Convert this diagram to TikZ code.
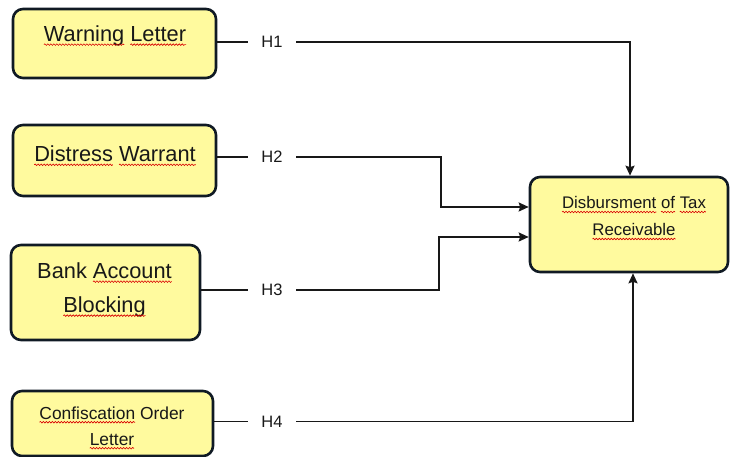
\documentclass[tikz,border=0pt]{standalone}
\usepackage{fontspec}
\setmainfont{Liberation Sans}
\usetikzlibrary{arrows.meta,decorations.pathmorphing}
\definecolor{boxfill}{RGB}{255,250,158}
\definecolor{boxline}{RGB}{16,26,36}
\definecolor{ink}{RGB}{24,24,24}
\newcommand\sq[1]{\tikz[baseline=(w.base)]{\node[inner sep=0pt,outer sep=0pt,draw=none,fill=none,align=left](w){#1};\draw[overlay,red!85!black,line width=0.6pt,decorate,decoration={snake,amplitude=0.8pt,segment length=3pt}]([yshift=-3pt]w.base west)--([yshift=-3pt]w.base east);}}
\tikzset{
  boxshape/.style={draw=boxline,fill=boxfill,line width=2.6pt,rounded corners=10pt,inner sep=0pt},
  boxtext/.style={text=ink,align=center,inner sep=0pt},
  hlabel/.style={text=ink,font=\fontsize{16.5}{18}\selectfont,inner xsep=13.5pt,inner ysep=2pt},
  conn/.style={draw=ink,line width=1.9pt},
  arr/.style={conn,-{Stealth[length=10pt,width=9pt,inset=1.5pt]}}
}
\begin{document}
\begin{tikzpicture}[x=1pt,y=1pt]
\useasboundingbox (0,0) rectangle (730,457);
% boxes
\node[boxshape,minimum width=203pt,minimum height=69pt] (b1) at (114.5,413.5) {};
\node[boxshape,minimum width=203pt,minimum height=71pt] (b2) at (114.5,296.5) {};
\node[boxshape,minimum width=189pt,minimum height=95pt] (b3) at (105.5,164.5) {};
\node[boxshape,minimum width=201pt,minimum height=65pt] (b4) at (112.5,33.5) {};
\node[boxshape,minimum width=198pt,minimum height=95pt] (t) at (629,232.5) {};
% texts
\node[boxtext,font=\fontsize{21.8}{25}\selectfont] (x1) at (115,421) {\sq{Warning} \sq{Letter}};
\node[boxtext,font=\fontsize{21.8}{25}\selectfont] (x2) at (115,303) {\sq{Distress} \sq{Warrant}};
\node[boxtext,font=\fontsize{21.8}{34}\selectfont] (x3) at (104.5,167) {Bank \sq{Account}\\\sq{Blocking}};
\node[boxtext,font=\fontsize{17.4}{26}\selectfont] (x4) at (112,31) {\sq{Confiscation} Order\\\sq{Letter}};
\node[boxtext,font=\fontsize{16.8}{27}\selectfont] (xt) at (634,240.5) {\sq{Disbursment} \sq{of} \sq{Tax}\\\sq{Receivable}};
% hypothesis labels
\node[hlabel] (h1) at (272,415) {H1};
\node[hlabel] (h2) at (272,300) {H2};
\node[hlabel] (h3) at (272,167) {H3};
\node[hlabel] (h4) at (272,35.5) {H4};
% bend points
\coordinate (k2) at (441,250);
\coordinate (k3) at (439,220);
% connectors
\draw[conn] (h1 -| b1.east) -- (h1.west);
\draw[conn] (h2 -| b2.east) -- (h2.west);
\draw[conn] (h3 -| b3.east) -- (h3.west);
\draw[conn] (h4 -| b4.east) -- (h4.west);
\draw[arr] (h1.east) -| ([xshift=1pt]t.north);
\draw[arr] (h2.east) -| (k2) -- (k2 -| t.west);
\draw[arr] (h3.east) -| (k3) -- (k3 -| t.west);
\draw[arr] (h4.east) -| ([xshift=4pt]t.south);
\end{tikzpicture}
\end{document}
